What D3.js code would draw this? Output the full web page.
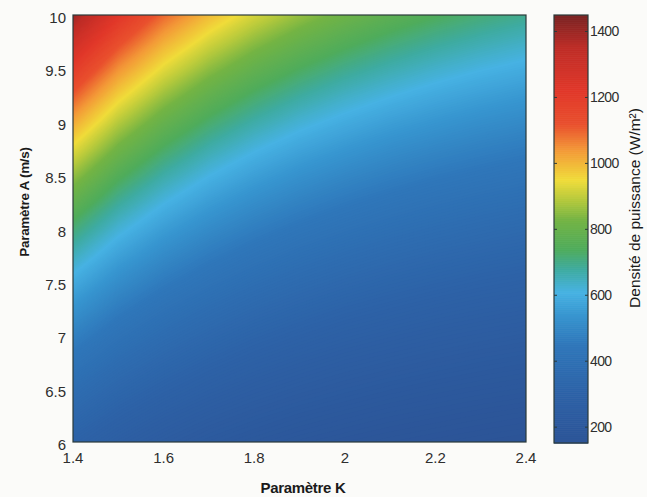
<!DOCTYPE html>
<html><head><meta charset="utf-8">
<script src="https://cdn.jsdelivr.net/npm/d3@7"></script>
<style>body{margin:0;background:#fbfbf9;overflow:hidden}svg{display:block}</style>
</head><body>
<svg id="chart" width="647" height="497"></svg>
<script>
// ---- data ----
const paramK = [1.4, 1.5, 1.6, 1.7, 1.8, 1.9, 2.0, 2.1, 2.2, 2.3, 2.4];
const paramA = [6, 6.25, 6.5, 6.75, 7, 7.25, 7.5, 7.75, 8, 8.25, 8.5, 8.75, 9, 9.25, 9.5, 9.75, 10];
// power density (W/m²), one row per A value (A=6 first), one column per K value
const density = [
  [303, 265, 237, 215, 199, 186, 176, 168, 161, 155, 150],
  [343, 299, 267, 243, 225, 210, 199, 189, 182, 175, 169],
  [385, 336, 301, 274, 253, 237, 224, 213, 204, 197, 191],
  [432, 377, 337, 307, 283, 265, 250, 239, 229, 220, 213],
  [481, 420, 376, 342, 316, 296, 279, 266, 255, 246, 238],
  [535, 467, 417, 380, 351, 329, 310, 296, 283, 273, 265],
  [592, 517, 462, 421, 389, 364, 344, 327, 314, 302, 293],
  [653, 570, 510, 464, 429, 401, 379, 361, 346, 334, 323],
  [718, 627, 561, 511, 472, 441, 417, 397, 381, 367, 355],
  [788, 688, 615, 560, 518, 484, 457, 435, 417, 402, 390],
  [862, 752, 673, 612, 566, 529, 500, 476, 456, 440, 426],
  [940, 821, 734, 668, 617, 577, 546, 519, 498, 480, 465],
  [1023, 893, 798, 727, 672, 628, 594, 565, 542, 522, 506],
  [1111, 970, 867, 789, 729, 682, 644, 614, 588, 567, 549],
  [1203, 1050, 939, 855, 790, 739, 698, 665, 637, 614, 595],
  [1301, 1135, 1015, 924, 854, 799, 755, 719, 689, 664, 643],
  [1403, 1225, 1095, 997, 922, 862, 814, 775, 743, 716, 694]
];
const xTickValues = [1.4, 1.6, 1.8, 2, 2.2, 2.4];
const yTickValues = [6, 6.5, 7, 7.5, 8, 8.5, 9, 9.5, 10];
const cbTickValues = [200, 400, 600, 800, 1000, 1200, 1400];
const cbRange = [152, 1450];

// ---- layout / style ----
const svg = d3.select('#chart');
const plot = {x0: 73, x1: 526, y0: 15, y1: 442};
const cb = {x0: 554, x1: 588, y0: 15, y1: 443};
const tickFont = '"Liberation Sans", Arial, sans-serif';

const x = d3.scaleLinear().domain([paramK[0], paramK[paramK.length - 1]]).range([plot.x0, plot.x1]);
const y = d3.scaleLinear().domain([paramA[0], paramA[paramA.length - 1]]).range([plot.y1, plot.y0]);

// scanned-jet colormap (value stops)
const stopV = [152, 300, 450, 540, 610, 680, 740, 830, 890, 950, 1040, 1120, 1220, 1350, 1450];
const stopC = ['#2c5497', '#2d62a7', '#2f77ba', '#3795cf', '#47b2e3', '#3eab9f', '#4fac5c',
               '#74b444', '#b5c93c', '#f0dc3a', '#f39a38', '#e9502e', '#e1382a', '#bf2d27', '#7a2323'];
const color = d3.scaleLinear().domain(stopV).range(stopC).interpolate(d3.interpolateRgb).clamp(true);

// ---- heat map via filled contour bands ----
const n = paramK.length, m = paramA.length;
const values = density.flat();
const step = 4;
const thresholds = d3.range(Math.ceil(d3.min(values) / step) * step, d3.max(values) + step, step);
const bands = d3.contours().size([n, m]).thresholds(thresholds)(values);
const kOf = d3.scaleLinear().domain([0.5, n - 0.5]).range([paramK[0], paramK[n - 1]]);
const aOf = d3.scaleLinear().domain([0.5, m - 0.5]).range([paramA[0], paramA[m - 1]]);
const proj = d3.geoTransform({point(px, py) { this.stream.point(x(kOf(px)), y(aOf(py))); }});
const path = d3.geoPath(proj);

svg.append('clipPath').attr('id', 'clip').append('rect')
  .attr('x', plot.x0).attr('y', plot.y0).attr('width', plot.x1 - plot.x0).attr('height', plot.y1 - plot.y0);

const g = svg.append('g').attr('clip-path', 'url(#clip)');
g.append('rect').attr('x', plot.x0).attr('y', plot.y0)
  .attr('width', plot.x1 - plot.x0).attr('height', plot.y1 - plot.y0)
  .attr('fill', color(d3.min(values)));
g.selectAll('path.band').data(bands).join('path')
  .attr('class', 'band')
  .attr('d', path)
  .attr('fill', d => color(d.value + step / 2));

// plot frame
svg.append('rect').attr('x', plot.x0).attr('y', plot.y0)
  .attr('width', plot.x1 - plot.x0).attr('height', plot.y1 - plot.y0)
  .attr('fill', 'none').attr('stroke', '#2a3a3a').attr('stroke-width', 1.2);

// axes tick labels
svg.append('g').selectAll('text').data(xTickValues).join('text')
  .attr('x', d => x(d)).attr('y', 463)
  .attr('text-anchor', 'middle')
  .attr('font-family', tickFont).attr('font-size', 15).attr('fill', '#2e2e2e')
  .text(d => d3.format('')(d));

svg.append('g').selectAll('text').data(yTickValues).join('text')
  .attr('x', 66).attr('y', d => y(d) + 8)
  .attr('text-anchor', 'end')
  .attr('font-family', tickFont).attr('font-size', 15).attr('fill', '#2e2e2e')
  .text(d => d3.format('')(d));

// axis titles
svg.append('text').attr('x', 303).attr('y', 493)
  .attr('text-anchor', 'middle').attr('font-family', tickFont)
  .attr('font-weight', 'bold').attr('font-size', 15).attr('letter-spacing', -0.3).attr('fill', '#1a1a1a')
  .text('Paramètre K');

svg.append('text').attr('transform', 'translate(29,202) rotate(-90)')
  .attr('text-anchor', 'middle').attr('font-family', tickFont)
  .attr('font-weight', 'bold').attr('font-size', 13.5).attr('letter-spacing', -0.3).attr('fill', '#1a1a1a')
  .text('Paramètre A (m/s)');

// ---- colorbar ----
const cy = d3.scaleLinear().domain(cbRange).range([cb.y1, cb.y0]);
const cbG = svg.append('g');
cbG.selectAll('rect').data(d3.range(cbRange[0], cbRange[1], 2)).join('rect')
  .attr('x', cb.x0).attr('width', cb.x1 - cb.x0)
  .attr('y', d => cy(d + 2)).attr('height', d => cy(d) - cy(d + 2) + 0.6)
  .attr('fill', d => color(d + 1));
cbG.append('rect').attr('x', cb.x0).attr('y', cb.y0)
  .attr('width', cb.x1 - cb.x0).attr('height', cb.y1 - cb.y0)
  .attr('fill', 'none').attr('stroke', '#2a3a3a').attr('stroke-width', 1.2);
cbG.selectAll('line.tl').data(cbTickValues).join('line')
  .attr('x1', cb.x0).attr('x2', cb.x0 + 3).attr('y1', d => cy(d)).attr('y2', d => cy(d))
  .attr('stroke', '#2a3a3a');
cbG.selectAll('line.tr').data(cbTickValues).join('line')
  .attr('x1', cb.x1 - 3).attr('x2', cb.x1).attr('y1', d => cy(d)).attr('y2', d => cy(d))
  .attr('stroke', '#2a3a3a');
cbG.selectAll('text').data(cbTickValues).join('text')
  .attr('x', cb.x1 + 2).attr('y', d => cy(d) + 5)
  .attr('font-family', tickFont).attr('font-size', 14).attr('letter-spacing', -0.6).attr('fill', '#2e2e2e')
  .text(d => d);

svg.append('text').attr('transform', 'translate(640,208) rotate(-90)')
  .attr('text-anchor', 'middle').attr('font-family', tickFont)
  .attr('font-size', 15.5).attr('fill', '#1a1a1a')
  .text('Densité de puissance (W/m²)');
</script>
</body></html>
